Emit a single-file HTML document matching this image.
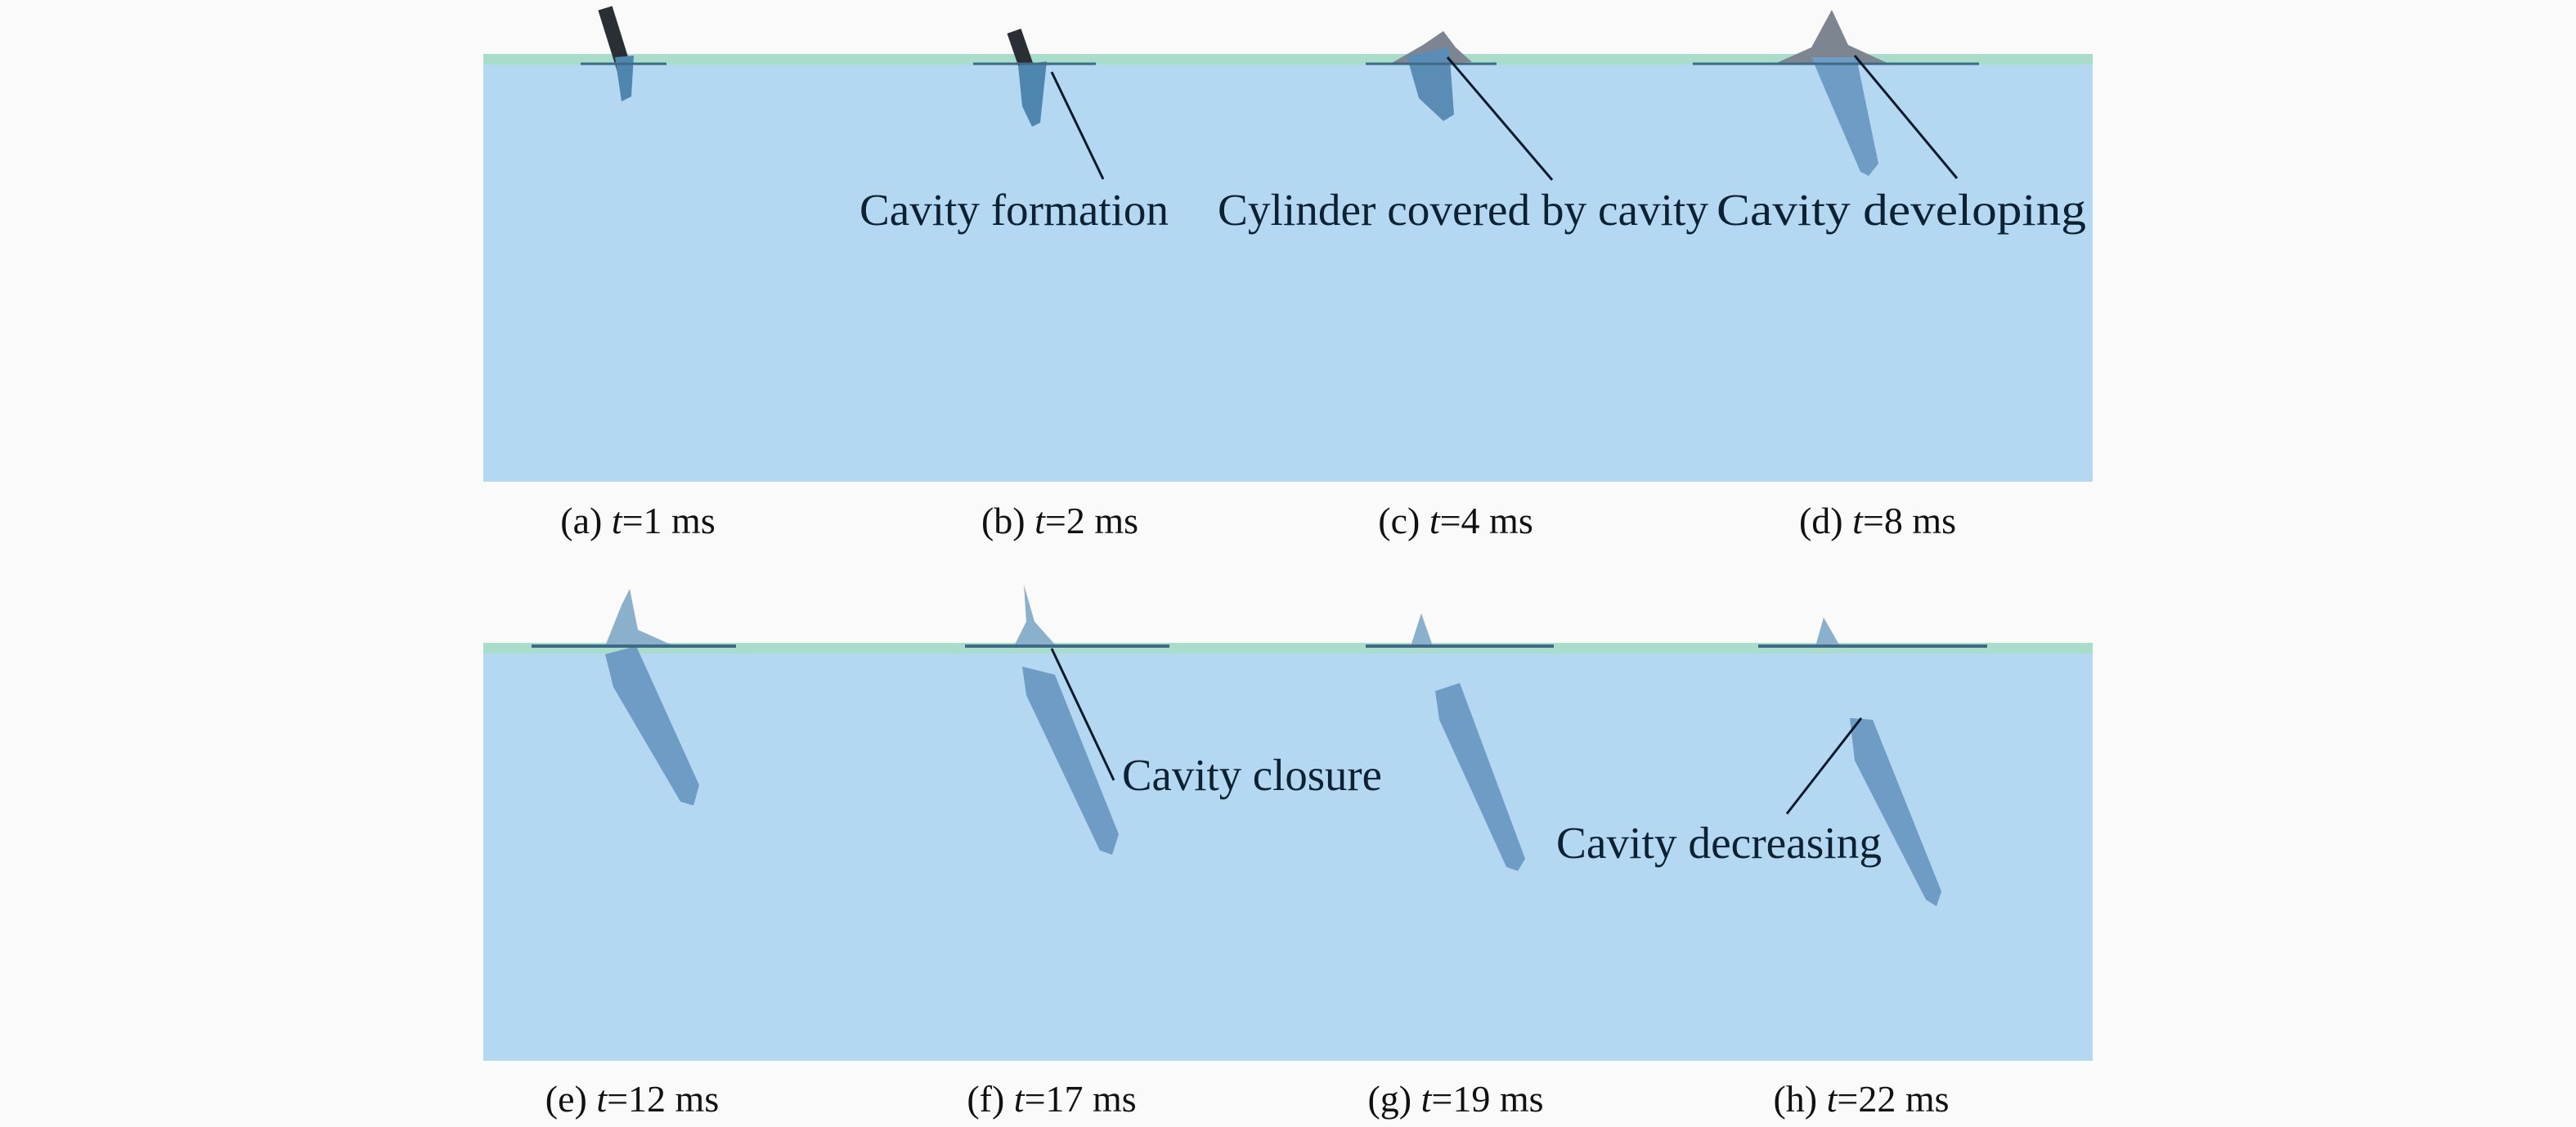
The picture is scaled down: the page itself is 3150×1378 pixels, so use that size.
<!DOCTYPE html>
<html><head><meta charset="utf-8"><style>
html,body{margin:0;padding:0;background:#fafafa;}
svg{display:block}
text{font-family:"Liberation Serif",serif;fill:#0c2233}
.lab{fill:#111;font-size:46px}
.ann{font-size:55px}
</style></head><body>
<svg width="3150" height="1378" viewBox="0 0 3150 1378" xmlns="http://www.w3.org/2000/svg">
<rect width="3150" height="1378" fill="#fafafa"/>
<rect x="591" y="66" width="1968" height="523" fill="#b5d8f2"/>
<rect x="591" y="66" width="1968" height="13" fill="#a9dcca"/>
<rect x="591" y="786" width="1968" height="511" fill="#b5d8f2"/>
<rect x="591" y="786" width="1968" height="13" fill="#a9dcca"/>

<!-- (a) -->
<line x1="740" y1="10" x2="765" y2="90" stroke="#2a2f35" stroke-width="18"/>
<path d="M752 70 L775 68 L772 118 L760 124 Z" fill="#4f86b0"/>
<line x1="710" y1="78" x2="815" y2="78" stroke="#3e6a86" stroke-width="3"/>
<!-- (b) -->
<line x1="1240" y1="38" x2="1258" y2="90" stroke="#2a2f35" stroke-width="18"/>
<path d="M1245 80 L1280 75 L1272 150 L1262 155 L1250 130 Z" fill="#4f86b0"/>
<line x1="1190" y1="78" x2="1340" y2="78" stroke="#3e6a86" stroke-width="3"/>
<line x1="1286" y1="88" x2="1349" y2="219" stroke="#0a1a2a" stroke-width="3"/>
<text class="ann" x="1051" y="275" textLength="378" lengthAdjust="spacingAndGlyphs">Cavity formation</text>
<!-- (c) -->
<path d="M1700 78 L1740 55 L1765 38 L1780 58 L1800 76 Z" fill="#7d8690"/>
<path d="M1720 68 L1772 58 L1778 140 L1765 148 L1735 120 Z" fill="#5a8cb6"/>
<line x1="1670" y1="78" x2="1830" y2="78" stroke="#3e6a86" stroke-width="3"/>
<line x1="1770" y1="70" x2="1898" y2="220" stroke="#0a1a2a" stroke-width="3"/>
<text class="ann" x="1489" y="275" textLength="600" lengthAdjust="spacingAndGlyphs">Cylinder covered by cavity</text>
<!-- (d) -->
<path d="M2170 78 L2215 58 L2240 12 L2260 55 L2310 78 Z" fill="#7d8690"/>
<path d="M2215 70 L2270 70 L2297 200 L2285 215 L2275 210 L2232 110 Z" fill="#6e9cc4"/>
<line x1="2070" y1="78" x2="2420" y2="78" stroke="#3e6a86" stroke-width="3"/>
<line x1="2268" y1="68" x2="2393" y2="218" stroke="#0a1a2a" stroke-width="3"/>
<text class="ann" x="2099" y="275" textLength="452" lengthAdjust="spacingAndGlyphs">Cavity developing</text>

<!-- (e) -->
<path d="M740 790 L760 740 L770 720 L780 770 L820 788 Z" fill="#8ab0cc"/>
<path d="M740 800 L778 790 L855 960 L848 985 L832 980 L750 840 Z" fill="#6e9cc4"/>
<line x1="650" y1="790" x2="900" y2="790" stroke="#3e6a86" stroke-width="4"/>
<!-- (f) -->
<path d="M1240 790 L1255 760 L1252 715 L1265 760 L1290 788 Z" fill="#8ab0cc"/>
<path d="M1250 815 L1290 825 L1368 1020 L1360 1045 L1345 1040 L1255 850 Z" fill="#6e9cc4"/>
<line x1="1180" y1="790" x2="1430" y2="790" stroke="#3e6a86" stroke-width="4"/>
<line x1="1286" y1="793" x2="1362" y2="954" stroke="#0a1a2a" stroke-width="3"/>
<text class="ann" x="1372" y="966" textLength="318" lengthAdjust="spacingAndGlyphs">Cavity closure</text>
<!-- (g) -->
<path d="M1725 790 L1738 750 L1752 790 Z" fill="#8ab0cc"/>
<path d="M1755 845 L1785 835 L1865 1050 L1856 1065 L1842 1060 L1760 880 Z" fill="#6e9cc4"/>
<line x1="1670" y1="790" x2="1900" y2="790" stroke="#3e6a86" stroke-width="4"/>
<!-- (h) -->
<path d="M2220 790 L2230 755 L2250 790 Z" fill="#8ab0cc"/>
<path d="M2262 878 L2290 880 L2374 1090 L2368 1108 L2355 1100 L2268 930 Z" fill="#6e9cc4"/>
<line x1="2150" y1="790" x2="2430" y2="790" stroke="#3e6a86" stroke-width="4"/>
<line x1="2276" y1="878" x2="2185" y2="995" stroke="#0a1a2a" stroke-width="3"/>
<text class="ann" x="1903" y="1049" textLength="398" lengthAdjust="spacingAndGlyphs">Cavity decreasing</text>

<text class="lab" x="780" y="652" text-anchor="middle">(a) <tspan font-style="italic">t</tspan>=1 ms</text>
<text class="lab" x="1296" y="652" text-anchor="middle">(b) <tspan font-style="italic">t</tspan>=2 ms</text>
<text class="lab" x="1780" y="652" text-anchor="middle">(c) <tspan font-style="italic">t</tspan>=4 ms</text>
<text class="lab" x="2296" y="652" text-anchor="middle">(d) <tspan font-style="italic">t</tspan>=8 ms</text>
<text class="lab" x="773" y="1359" text-anchor="middle">(e) <tspan font-style="italic">t</tspan>=12 ms</text>
<text class="lab" x="1286" y="1359" text-anchor="middle">(f) <tspan font-style="italic">t</tspan>=17 ms</text>
<text class="lab" x="1780" y="1359" text-anchor="middle">(g) <tspan font-style="italic">t</tspan>=19 ms</text>
<text class="lab" x="2276" y="1359" text-anchor="middle">(h) <tspan font-style="italic">t</tspan>=22 ms</text>
</svg>
</body></html>
